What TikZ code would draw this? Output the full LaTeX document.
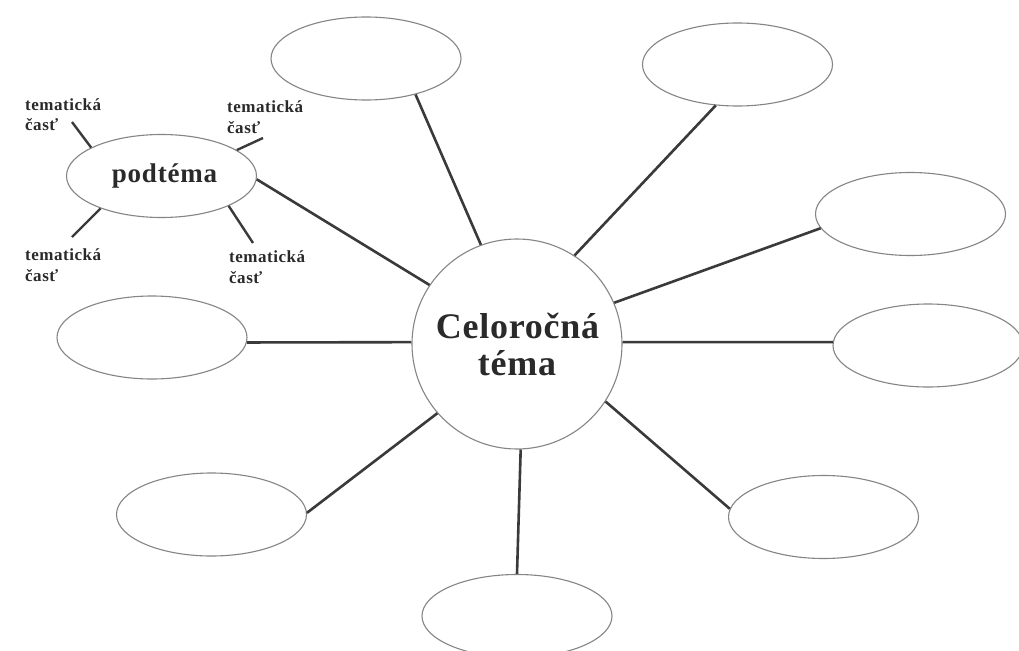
\documentclass[tikz,border=0pt]{standalone}
\usepackage{fontspec}
\setmainfont{Liberation Serif}
\newfontfamily\labelfont{Liberation Serif}[LetterSpace=3]
\newfontfamily\hubfont{Liberation Serif}[LetterSpace=2]
\usetikzlibrary{shapes.geometric}
\definecolor{linegray}{HTML}{3A3A3A}
\definecolor{rimgray}{HTML}{858585}
\definecolor{inkgray}{HTML}{2A2A2A}
\begin{document}
\begin{tikzpicture}[x=1pt,y=-1pt,
  bubble/.style={ellipse,draw=rimgray,line width=1.1pt,minimum width=190pt,minimum height=83pt,inner sep=0pt},
  hub/.style={circle,draw=rimgray,line width=1.1pt,minimum size=210pt,inner sep=0pt,align=center,text=inkgray,
    font=\hubfont\bfseries\fontsize{36}{37}\selectfont},
  spoke/.style={draw=linegray,line width=2.6pt},
  twig/.style={draw=linegray,line width=2.4pt},
  partlabel/.style={anchor=base west,inner sep=0pt,align=left,text=inkgray,
    font=\labelfont\bfseries\fontsize{17}{20.5}\selectfont}
]
\useasboundingbox (0,0) rectangle (1019,650);
\fill[white] (0,0) rectangle (1019,650);
\clip (0,0) rectangle (1019,650);

\node[hub] (hub) at (517,344) {\raisebox{-3pt}{\hspace{1pt}Celoročná}\\\raisebox{-3pt}{téma}};

\node[bubble] (top) at (366,58.5) {};
\node[bubble] (topright) at (737.5,64.5) {};
\node[bubble] (rightup) at (910.5,214) {};
\node[bubble] (right) at (928,345.5) {};
\node[bubble] (botright) at (823.5,517) {};
\node[bubble] (bottom) at (517,616) {};
\node[bubble] (botleft) at (211.5,514.5) {};
\node[bubble] (left) at (152,337.5) {};
\node[bubble,text=inkgray,font=\labelfont\bfseries\fontsize{27}{30}\selectfont] (sub) at (161.5,176) {\hspace{6pt}\raisebox{-3pt}{podtéma}};

\draw[spoke] (hub.110) -- (top.324);
\draw[spoke] (hub.57) -- (topright.242);
\draw[spoke] (hub.23) -- (rightup.189);
\draw[spoke] (hub.1) -- (right.178);
\draw[spoke] (hub.327) -- (botright.175);
\draw[spoke] (hub.272) -- (bottom.north);
\draw[spoke] (hub.221) -- (botleft.1);
\draw[spoke] (hub.179) -- (left.357);
\draw[spoke] (hub.146) -- (sub.358);

\coordinate (ulEnd) at (72,122);
\coordinate (urEnd) at (263,138);
\coordinate (llEnd) at (72,237);
\coordinate (lrEnd) at (253,243);
\draw[twig] (sub.158) -- (ulEnd);
\draw[twig] (sub.19) -- (urEnd);
\draw[twig] (sub.208) -- (llEnd);
\draw[twig] (sub.336) -- (lrEnd);

\node[partlabel] (ul) at (25,131) {tematická\\časť};
\node[partlabel] (ur) at (227,133) {tematická\\časť};
\node[partlabel] (ll) at (25,281) {tematická\\časť};
\node[partlabel] (lr) at (229,283) {tematická\\časť};
\end{tikzpicture}
\end{document}
